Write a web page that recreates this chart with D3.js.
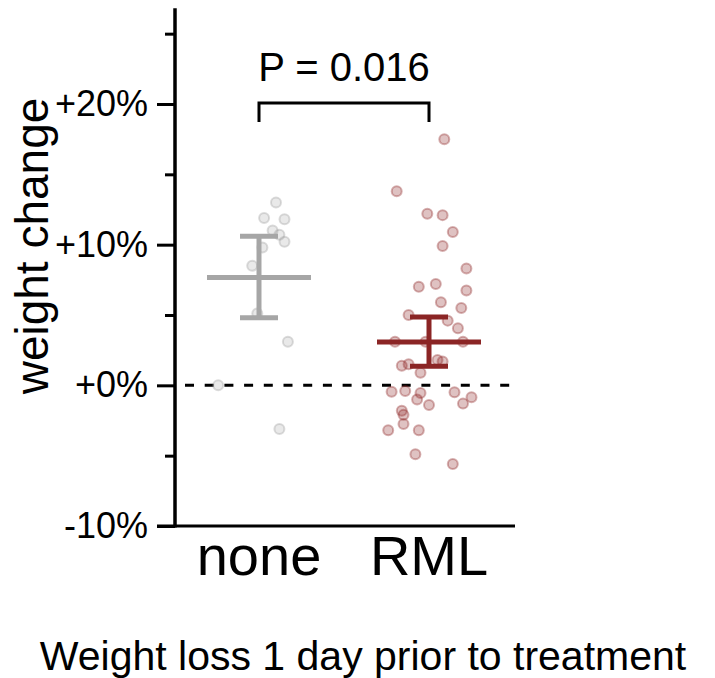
<!DOCTYPE html>
<html>
<head>
<meta charset="utf-8">
<script src="https://cdn.jsdelivr.net/npm/d3@7"></script>
<style>
  body { margin: 0; background: #fff; }
  text { font-family: 'Liberation Sans', Arial, sans-serif; fill: #000; }
</style>
</head>
<body>
<div id="chart"></div>
<script>
const groups = ['none', 'RML'];

// weight change (%) per animal
const noneValues = [13.0, 11.9, 11.8, 11.0, 10.7, 10.2, 9.8, 8.5, 5.1, 3.1, 0.0, -3.1];
const rmlValues = [17.5, 13.8, 12.2, 12.1, 10.9, 9.9, 8.3, 7.0, 7.2, 6.75, 5.9, 5.5, 5.0,
  4.6, 4.05, 3.1, 3.1, 3.1, 1.4, 1.5, 1.8, 1.7, 0.9, -0.45, -0.4, -0.55, -1.0, -0.5,
  -0.85, -1.3, -1.4, -1.8, -2.1, -2.75, -3.2, -3.2, -4.9, -5.6];

// horizontal jitter, as a fraction of the distance between groups
const noneJitter = [0.10, 0.03, 0.15, 0.08, 0.12, 0.15, 0.02, -0.04, -0.01, 0.17, -0.24, 0.12];
const rmlJitter = [0.09, -0.19, -0.01, 0.08, 0.14, 0.08, 0.22, -0.06, 0.04, 0.22, 0.07, 0.19,
  -0.12, 0.11, 0.17, -0.20, -0.02, 0.20, -0.16, -0.12, 0.05, 0.08, -0.05, -0.22, -0.14,
  -0.05, -0.07, 0.15, 0.25, 0.20, 0.0, -0.16, -0.15, -0.15, -0.24, -0.06, -0.08, 0.14];

// error bar bounds (%)
const errLow = [4.8, 1.35];
const errHigh = [10.6, 4.86];

const majorTicks = [-10, 0, 10, 20];
const minorTicks = [-5, 5, 15, 25];
const pLabel = 'P = 0.016';

const width = 715;
const height = 678;

const svg = d3.select('#chart').append('svg')
  .attr('width', width)
  .attr('height', height);

const y = d3.scaleLinear().domain([-10, 20]).range([526, 104]);
const x = d3.scalePoint().domain(groups).range([259, 429]);
const axisX = 175;
const yTop = 26.8;

const colors = { none: '#a6a6a6', RML: '#8b2525' };
const pointColors = { none: '#9a9a9a', RML: '#8b2323' };

// zero line
svg.append('line')
  .attr('x1', 185).attr('x2', 515)
  .attr('y1', y(0)).attr('y2', y(0))
  .attr('stroke', '#000')
  .attr('stroke-width', 3)
  .attr('stroke-dasharray', '9,10.7');

// points
const series = [
  { g: 'none', values: noneValues, jitter: noneJitter },
  { g: 'RML', values: rmlValues, jitter: rmlJitter },
];

series.forEach((s) => {
  svg.append('g')
    .selectAll('circle')
    .data(s.values)
    .join('circle')
    .attr('cx', (d, i) => x(s.g) + s.jitter[i] * x.step())
    .attr('cy', (d) => y(d))
    .attr('r', 5)
    .attr('fill', pointColors[s.g])
    .attr('fill-opacity', s.g === 'RML' ? 0.28 : 0.22)
    .attr('stroke', pointColors[s.g])
    .attr('stroke-opacity', s.g === 'RML' ? 0.35 : 0.35)
    .attr('stroke-width', 2);
});

// mean + error bars
series.forEach((s, i) => {
  const cx = x(s.g);
  const m = d3.mean(s.values);
  const g = svg.append('g')
    .attr('stroke', colors[s.g])
    .attr('stroke-width', 5);
  g.append('line')
    .attr('x1', cx).attr('x2', cx)
    .attr('y1', y(errLow[i])).attr('y2', y(errHigh[i]));
  [errLow[i], errHigh[i]].forEach((v) => {
    g.append('line')
      .attr('x1', cx - 19).attr('x2', cx + 19)
      .attr('y1', y(v)).attr('y2', y(v));
  });
  g.append('line')
    .attr('x1', cx - 52).attr('x2', cx + 52)
    .attr('y1', y(m)).attr('y2', y(m));
});

// y axis
const yAxis = d3.axisLeft(y)
  .tickValues(majorTicks)
  .tickSize(18)
  .tickPadding(9)
  .tickFormat((d) => (d < 0 ? `-${Math.abs(d)}%` : `+${d}%`));

const yg = svg.append('g')
  .attr('transform', `translate(${axisX},0)`)
  .call(yAxis);
yg.select('.domain').remove();
yg.selectAll('.tick line').attr('stroke', '#000').attr('stroke-width', 3);
yg.selectAll('.tick text')
  .style('font-family', "'Liberation Sans', Arial, sans-serif")
  .style('font-size', '36px')
  .attr('fill', '#000');

const yMinor = svg.append('g')
  .attr('transform', `translate(${axisX},0)`)
  .call(d3.axisLeft(y).tickValues(minorTicks).tickSize(10).tickFormat(''));
yMinor.select('.domain').remove();
yMinor.selectAll('.tick line').attr('stroke', '#000').attr('stroke-width', 3);

svg.append('line')
  .attr('x1', axisX).attr('x2', axisX)
  .attr('y1', y(yTop)).attr('y2', y(-10) + 1.5)
  .attr('stroke', '#000')
  .attr('stroke-width', 3.5);

// x axis
svg.append('line')
  .attr('x1', 157).attr('x2', 515)
  .attr('y1', y(-10)).attr('y2', y(-10))
  .attr('stroke', '#000')
  .attr('stroke-width', 3);

svg.append('g')
  .selectAll('text')
  .data(groups)
  .join('text')
  .attr('x', (d) => x(d))
  .attr('y', 575)
  .attr('text-anchor', 'middle')
  .style('font-size', '56px')
  .text((d) => d);

// significance bracket
const bracketY = 103;
svg.append('path')
  .attr('d', `M${x('none')},${bracketY + 19}V${bracketY}H${x('RML')}V${bracketY + 19}`)
  .attr('fill', 'none')
  .attr('stroke', '#000')
  .attr('stroke-width', 3);

svg.append('text')
  .attr('x', (x('none') + x('RML')) / 2)
  .attr('y', 81)
  .attr('text-anchor', 'middle')
  .style('font-size', '40px')
  .text(pLabel);

// y label
svg.append('text')
  .attr('transform', 'translate(48,246) rotate(-90)')
  .attr('text-anchor', 'middle')
  .style('font-size', '46px')
  .text('weight change');

// title
svg.append('text')
  .attr('x', 363)
  .attr('y', 670)
  .attr('text-anchor', 'middle')
  .style('font-size', '41px')
  .text('Weight loss 1 day prior to treatment');
</script>
</body>
</html>
